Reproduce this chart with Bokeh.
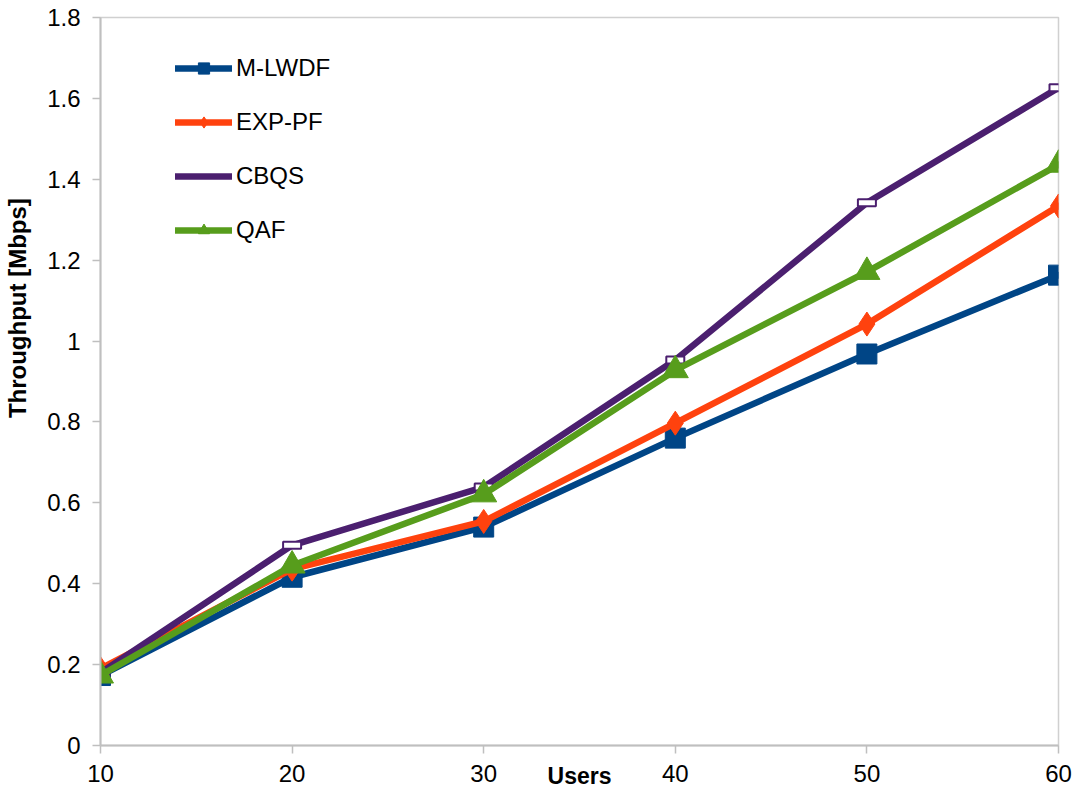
from bokeh.plotting import figure
from bokeh.embed import file_html
from bokeh.resources import INLINE
from bokeh.models import FixedTicker, CustomJSTickFormatter, Legend, LegendItem, Range1d

users = [10, 20, 30, 40, 50, 60]
mlwdf = [0.173, 0.416, 0.540, 0.760, 0.968, 1.163]
exppf = [0.190, 0.436, 0.554, 0.797, 1.042, 1.334]
cbqs = [0.180, 0.495, 0.639, 0.953, 1.342, 1.626]
qaf = [0.173, 0.445, 0.621, 0.928, 1.171, 1.436]
y_ticks = [0, 0.2, 0.4, 0.6, 0.8, 1.0, 1.2, 1.4, 1.6, 1.8]

FONT = "Liberation Sans"
C_M, C_E, C_C, C_Q = "#004586", "#FF420E", "#4B1F6F", "#579D1C"

p = figure(width=1079, height=793, output_backend="svg", toolbar_location=None,
           x_range=Range1d(10, 60), y_range=Range1d(0, 1.8),
           min_border_left=100, min_border_right=21, min_border_top=17, min_border_bottom=48)
p.xgrid.visible = False
p.ygrid.visible = False
p.outline_line_color = "#D0D0D0"
p.outline_line_width = 1.5

for ax in (p.xaxis[0], p.yaxis[0]):
    ax.axis_line_color = "#BFBFBF"
    ax.axis_line_width = 2
    ax.major_tick_line_color = "#BFBFBF"
    ax.major_tick_line_width = 1.5
    ax.minor_tick_line_color = None
    ax.major_tick_in = 0
    ax.major_tick_out = 8
    ax.major_label_text_font = FONT
    ax.major_label_text_font_size = "24px"
    ax.major_label_text_color = "#000000"
    ax.axis_label_text_color = "#000000"
    ax.axis_label_text_font = FONT
    ax.axis_label_text_font_style = "bold"

p.xaxis.ticker = FixedTicker(ticks=users)
p.yaxis.ticker = FixedTicker(ticks=y_ticks)
p.yaxis.formatter = CustomJSTickFormatter(code="return tick.toFixed(1).replace(/\\.0$/, '');")
p.xaxis.major_label_standoff = 11
p.yaxis.major_label_standoff = 12

NB = "\u00a0"
p.yaxis.axis_label = NB * 22 + "Throughput [Mbps]"
p.yaxis.axis_label_text_font_size = "24px"
p.yaxis.axis_label_standoff = 13

p.xaxis.axis_label = "Users"
p.xaxis.axis_label_text_font_size = "23px"
p.xaxis.axis_label_standoff = -22

lw = 6.5
l_m = p.line(users, mlwdf, line_color=C_M, line_width=lw, line_join="round", line_cap="round")
m_m = p.scatter(users, mlwdf, marker="square", size=20, fill_color=C_M, line_color=C_M)
l_e = p.line(users, exppf, line_color=C_E, line_width=lw, line_join="round", line_cap="round")
m_e = p.scatter(users, exppf, marker="diamond", size=24, fill_color=C_E, line_color=C_E)
l_c = p.line(users, cbqs, line_color=C_C, line_width=lw, line_join="round", line_cap="round")
m_c = p.rect(users, cbqs, width=18, height=7, width_units="screen", height_units="screen",
             fill_color="white", line_color=C_C, line_width=2)
l_q = p.line(users, qaf, line_color=C_Q, line_width=lw, line_join="round", line_cap="round")
m_q = p.scatter(users, qaf, marker="triangle", size=26, fill_color=C_Q, line_color=C_Q)

legend = Legend(items=[
    LegendItem(label="M-LWDF", renderers=[l_m, m_m]),
    LegendItem(label="EXP-PF", renderers=[l_e, m_e]),
    LegendItem(label="CBQS", renderers=[l_c]),
    LegendItem(label="QAF", renderers=[l_q, m_q]),
], location=(75, 501))
legend.padding = 0
legend.margin = 0
legend.spacing = 26
legend.glyph_width = 57
legend.glyph_height = 28
legend.label_height = 28
legend.label_standoff = 4
legend.label_text_font = FONT
legend.label_text_font_size = "24px"
legend.label_text_color = "#000000"
legend.border_line_alpha = 0
legend.background_fill_alpha = 0
p.add_layout(legend)

open("out.html", "w").write(file_html(p, INLINE))
